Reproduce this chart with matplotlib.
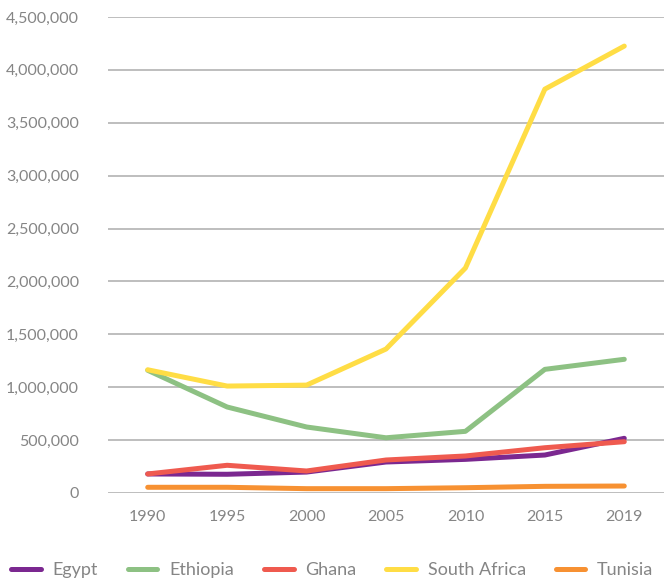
import matplotlib.pyplot as plt
from matplotlib.ticker import FuncFormatter

# Data
years = ["1990", "1995", "2000", "2005", "2010", "2015", "2019"]
egypt = [180000, 177000, 198000, 293000, 318000, 359000, 517000]
ethiopia = [1160000, 813000, 624000, 522000, 583000, 1169000, 1264000]
ghana = [180000, 262000, 208000, 312000, 350000, 428000, 485000]
south_africa = [1165000, 1011000, 1020000, 1361000, 2127000, 3818000, 4225000]
tunisia = [54000, 54000, 41000, 41000, 50000, 63000, 66000]

series = [
    ("Egypt", egypt, "#7b2890"),
    ("Ethiopia", ethiopia, "#8dc183"),
    ("Ghana", ghana, "#ef5a4f"),
    ("South Africa", south_africa, "#ffdd45"),
    ("Tunisia", tunisia, "#f79132"),
]

plt.rcParams['font.family'] = ['Lato', 'DejaVu Sans']
grey = "#858585"

fig = plt.figure(figsize=(6.64, 5.78), dpi=100)
ax = fig.add_axes([108/664, 85/578, 556/664, 476/578])

x = range(len(years))
for name, vals, col in series:
    ax.plot(x, vals, color=col, lw=3.6, label=name,
            solid_capstyle="round", solid_joinstyle="round")

ax.set_xlim(-0.5, len(years) - 0.5)
ax.set_ylim(0, 4500000)
ax.set_yticks(range(0, 4500001, 500000))
ax.yaxis.set_major_formatter(FuncFormatter(lambda v, p: f"{int(v):,}"))
ax.set_xticks(list(x))
ax.set_xticklabels(years)
ax.grid(axis="y", color="#b3b3b3", lw=1.2)
ax.set_axisbelow(True)
for s in ax.spines.values():
    s.set_visible(False)
ax.tick_params(axis="y", length=0, pad=21, labelsize=11.5, labelcolor=grey)
ax.tick_params(axis="x", length=0, pad=12, labelsize=11.5, labelcolor=grey)

leg = fig.legend(loc="center left", ncol=5,
                 frameon=False, fontsize=13, handlelength=1.65,
                 handletextpad=0.65, columnspacing=1.65, borderaxespad=0.0,
                 borderpad=0.0)
leg.set_bbox_to_anchor((11/664, 8/578), transform=fig.transFigure)
for t in leg.get_texts():
    t.set_color(grey)

plt.savefig("out.png", dpi=100)
